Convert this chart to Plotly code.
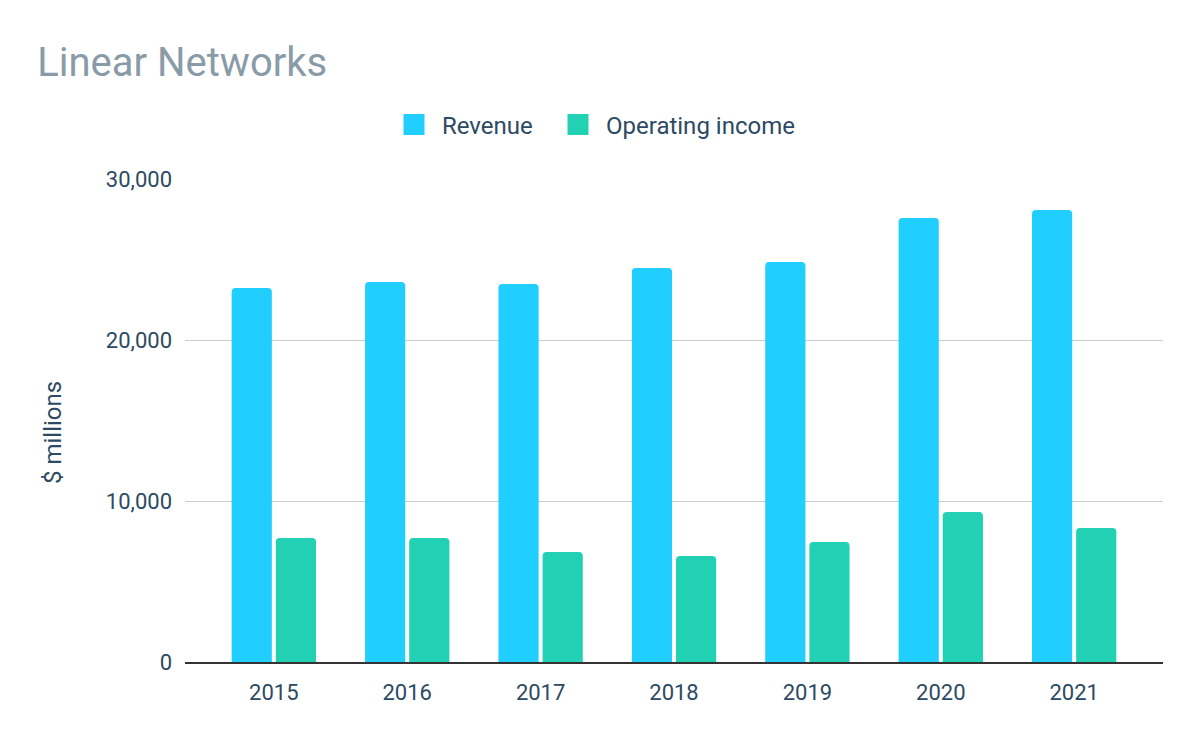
import plotly.graph_objects as go

years = ["2015", "2016", "2017", "2018", "2019", "2020", "2021"]
revenue = [23230, 23600, 23480, 24470, 24840, 27580, 28070]
operating_income = [7700, 7700, 6830, 6580, 7450, 9320, 8320]

series_names = ["Revenue", "Operating income"]
series_colors = ["#20CEFF", "#22D0B4"]
legend_ids = ["legend", "legend2"]

text_color = "#2C4A63"

fig = go.Figure()
for name, vals, col in zip(series_names, [revenue, operating_income], series_colors):
    fig.add_trace(go.Bar(name=name, x=years, y=vals, marker_color=col,
                         marker_line_width=0, showlegend=False, legendgroup=name))
# legend-only entries with larger square swatches
for name, col, lg in zip(series_names, series_colors, legend_ids):
    fig.add_trace(go.Scatter(name=name, x=[None], y=[None], mode="markers",
                             marker=dict(symbol="square", size=16, color=col,
                                         line=dict(color=col, width=5)),
                             legendgroup=name, showlegend=True, hoverinfo="skip",
                             legend=lg))

leg_common = dict(orientation="h", xanchor="left", y=1.112, yanchor="middle",
                  font=dict(size=24, color=text_color), itemsizing="trace",
                  itemwidth=46, bgcolor="rgba(0,0,0,0)")

fig.update_layout(
    width=1200, height=742,
    paper_bgcolor="white", plot_bgcolor="white",
    font=dict(family="Roboto", size=22, color=text_color),
    title=dict(text="Linear Networks", x=0.031, xref="container", xanchor="left",
               y=1 - 62 / 742, yref="container", yanchor="middle",
               font=dict(family="Roboto", size=40, color="#8A9BA8")),
    margin=dict(l=185, r=37, t=179, b=80, autoexpand=False),
    barmode="group", bargap=0.338, bargroupgap=0.09, barcornerradius=4,
    legend=dict(x=(403 - 185 - 17) / 978, **leg_common),
    legend2=dict(x=(567 - 185 - 17) / 978, **leg_common),
    showlegend=True,
    annotations=[dict(text="$ millions", xref="paper", yref="paper",
                      x=(53 - 185) / 978, y=(662 - 433) / 483, textangle=-90,
                      showarrow=False, xanchor="center", yanchor="middle",
                      font=dict(size=24, color=text_color))],
)
fig.update_xaxes(type="category", range=[-0.666, 6.666], showgrid=False,
                 showline=True, linecolor="#333333", linewidth=2,
                 ticks="", ticklabelstandoff=10, tickfont=dict(size=22, color=text_color))
fig.update_yaxes(range=[0, 30000], dtick=10000, tickformat=",d", showgrid=True,
                 gridcolor="#CCCCCC", gridwidth=1, zeroline=False, showline=False,
                 ticks="", ticklabelstandoff=12, tickfont=dict(size=22, color=text_color))

fig.write_html("out.html")
